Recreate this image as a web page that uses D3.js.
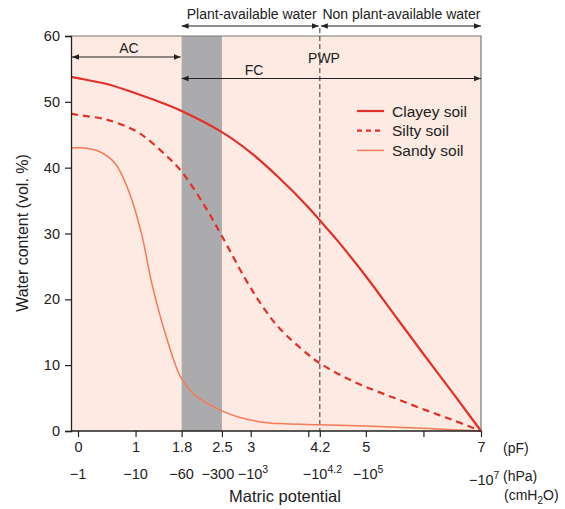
<!DOCTYPE html>
<html>
<head>
<meta charset="utf-8">
<script src="https://cdn.jsdelivr.net/npm/d3@7.9.0/dist/d3.min.js"></script>
<style>
  body { margin: 0; background: #fff; }
  svg text { font-family: "Liberation Sans", Arial, sans-serif; fill: #222; }
</style>
</head>
<body>
<svg id="chart" width="565" height="509"></svg>
<script>
// pF values and water content (vol. %)
const clayPF    = [-0.12, 0, 0.5, 1, 1.5, 1.8, 2.5, 3, 3.5, 4, 4.2, 4.5, 5, 5.5, 6, 6.5, 7];
const clayWater = [53.8, 53.6, 52.7, 51.3, 49.7, 48.6, 45.4, 42.3, 38.4, 34, 32, 29, 23.5, 17.6, 11.7, 5.9, 0];

const siltPF    = [-0.12, 0, 0.5, 1, 1.2, 1.5, 1.8, 2.2, 2.5, 2.9, 3.2, 3.5, 4, 4.2, 4.6, 5, 5.5, 6, 6.5, 7];
const siltWater = [48.2, 48, 47.3, 45.6, 44.4, 42.1, 39.4, 34.2, 29.6, 23.2, 19, 15.6, 11.6, 10.3, 8.3, 6.7, 5, 3.3, 1.7, 0];

const sandPF    = [-0.12, 0.1, 0.36, 0.64, 0.87, 1.1, 1.28, 1.51, 1.8, 2.08, 2.49, 2.8, 3.24, 3.6, 4.2, 5, 6, 7];
const sandWater = [43, 43, 42.5, 40.7, 36.7, 30.1, 22.5, 15, 7.9, 5.1, 3.1, 2.1, 1.3, 1.1, 0.95, 0.75, 0.4, 0];

const pfTicks = [0, 1, 1.8, 2.5, 3, 4, 4.2, 5, 6, 7];
const pfLabels = ["0", "1", "1.8", "2.5", "3", "", "4.2", "5", "", "7"];
// hPa labels under the pF ticks: [base, superscript, anchor, offset from tick]
const hpaLabels = [
  ["−1", "", "middle", 0], ["−10", "", "middle", 0], ["−60", "", "middle", 0],
  ["−300", "", "middle", -4], ["−10", "3", "start", -13], null,
  ["−10", "4.2", "start", -17], ["−10", "5", "start", -13], null, ["−10", "7", "start", -12]
];
const yTicks = [0, 10, 20, 30, 40, 50, 60];

const availStart = 1.8, availEnd = 2.5, pwp = 4.2;

const series = [
  { name: "Clayey soil", pf: clayPF, w: clayWater, color: "#e2302a", width: 2.2, dash: null },
  { name: "Silty soil",  pf: siltPF, w: siltWater, color: "#e2302a", width: 2.2, dash: "7,5" },
  { name: "Sandy soil",  pf: sandPF, w: sandWater, color: "#f57a58", width: 1.5, dash: null }
];

const svg = d3.select("#chart");
const pLeft = 71, pRight = 481, pTop = 36, pBottom = 431;

const x = d3.scaleLinear().domain([0, 7]).range([78, 481]);
const y = d3.scaleLinear().domain([0, 60]).range([pBottom, pTop]);

// arrow marker
const defs = svg.append("defs");
defs.append("marker").attr("id", "arr")
  .attr("viewBox", "0 0 10 10").attr("refX", 10).attr("refY", 5)
  .attr("markerWidth", 7).attr("markerHeight", 7).attr("orient", "auto-start-reverse")
  .attr("markerUnits", "userSpaceOnUse")
  .append("path").attr("d", "M0,1 L10,5 L0,9 Z").attr("fill", "#222");

// background
svg.append("rect").attr("x", pLeft).attr("y", pTop)
  .attr("width", pRight - pLeft).attr("height", pBottom - pTop).attr("fill", "#fdeae2");

svg.append("rect").attr("x", x(availStart)).attr("y", pTop)
  .attr("width", x(availEnd) - x(availStart)).attr("height", pBottom - pTop)
  .attr("fill", "#ababad");

// frame top/right
svg.append("path").attr("d", `M${pLeft},${pTop}H${pRight}V${pBottom}`)
  .attr("fill", "none").attr("stroke", "#777").attr("stroke-width", 1.2);

// PWP dashed line
svg.append("line").attr("x1", x(pwp)).attr("x2", x(pwp)).attr("y1", 28).attr("y2", pBottom)
  .attr("stroke", "#555").attr("stroke-width", 1.2).attr("stroke-dasharray", "5,3");

// curves
const line = d3.line().curve(d3.curveCatmullRom.alpha(0.5)).x(d => x(d[0])).y(d => y(d[1]));
series.forEach(s => {
  svg.append("path")
    .datum(s.pf.map((p, i) => [p, s.w[i]]))
    .attr("d", line)
    .attr("fill", "none")
    .attr("stroke", s.color)
    .attr("stroke-width", s.width)
    .attr("stroke-dasharray", s.dash);
});

// y axis
const yAxis = svg.append("g").attr("transform", `translate(${pLeft},0)`)
  .call(d3.axisLeft(y).tickValues(yTicks).tickSize(6).tickPadding(5));
yAxis.select(".domain").attr("stroke", "#222").attr("stroke-width", 1.3);
yAxis.selectAll(".tick line").attr("stroke", "#222").attr("stroke-width", 1.2);
yAxis.selectAll("text").style("font-size", "14.5px").attr("fill", "#222");

// x axis
const xAxis = svg.append("g").attr("transform", `translate(0,${pBottom})`)
  .call(d3.axisBottom(x).tickValues(pfTicks).tickSize(6).tickFormat((d, i) => pfLabels[i]).tickPadding(5));
xAxis.select(".domain").remove();
svg.append("line").attr("x1", pLeft).attr("x2", pRight).attr("y1", pBottom).attr("y2", pBottom)
  .attr("stroke", "#222").attr("stroke-width", 1.3);
xAxis.selectAll(".tick line").attr("stroke", "#222").attr("stroke-width", 1.2);
xAxis.selectAll("text").style("font-size", "14.5px").attr("fill", "#222");

svg.append("text").attr("x", 503).attr("y", 453).style("font-size", "14px").text("(pF)");

// hPa row
hpaLabels.forEach((lab, i) => {
  if (!lab) return;
  const p = pfTicks[i];
  const yy = p === 7 ? 485 : 479;
  const t = svg.append("text").attr("x", x(p) + lab[3]).attr("y", yy)
    .attr("text-anchor", lab[2]).style("font-size", "14.5px");
  t.append("tspan").text(lab[0]);
  if (lab[1]) t.append("tspan").attr("dy", -6).style("font-size", "10.5px").text(lab[1]);
});
svg.append("text").attr("x", 503).attr("y", 481).style("font-size", "14px").text("(hPa)");
const cm = svg.append("text").attr("x", 504).attr("y", 500).style("font-size", "14px");
cm.append("tspan").text("(cmH");
cm.append("tspan").attr("dy", 4).style("font-size", "10px").text("2");
cm.append("tspan").attr("dy", -4).text("O)");

svg.append("text").attr("x", 285).attr("y", 502).attr("text-anchor", "middle")
  .style("font-size", "16.5px").text("Matric potential");

svg.append("text").attr("transform", "translate(28,233) rotate(-90)")
  .attr("text-anchor", "middle").style("font-size", "16px").text("Water content (vol. %)");

// annotations with arrows
function arrow(x1, x2, yy) {
  svg.append("line").attr("x1", x1).attr("x2", x2).attr("y1", yy).attr("y2", yy)
    .attr("stroke", "#222").attr("stroke-width", 1.1)
    .attr("marker-start", "url(#arr)").attr("marker-end", "url(#arr)");
}
arrow(x(availStart), x(pwp) - 1, 26);
arrow(x(pwp) + 1, x(7), 26);
arrow(pLeft + 1, x(availStart) - 1, 57);
arrow(x(availStart), x(7), 78.5);

svg.append("text").attr("x", (x(availStart) + x(pwp)) / 2 + 1).attr("y", 19).attr("text-anchor", "middle")
  .style("font-size", "14px").text("Plant-available water");
svg.append("text").attr("x", (x(pwp) + x(7)) / 2 + 1).attr("y", 19).attr("text-anchor", "middle")
  .style("font-size", "14px").text("Non plant-available water");
svg.append("text").attr("x", 129).attr("y", 53).attr("text-anchor", "middle")
  .style("font-size", "14px").text("AC");
svg.append("text").attr("x", 254).attr("y", 75).attr("text-anchor", "middle")
  .style("font-size", "14px").text("FC");
svg.append("text").attr("x", 324).attr("y", 63).attr("text-anchor", "middle")
  .style("font-size", "14px").text("PWP");

// legend
const lg = svg.append("g").attr("transform", "translate(357,111)");
series.forEach((s, i) => {
  const g = lg.append("g").attr("transform", `translate(0,${i * 19.7})`);
  g.append("line").attr("x1", 0).attr("x2", 27).attr("y1", 0).attr("y2", 0)
    .attr("stroke", s.color).attr("stroke-width", s.width)
    .attr("stroke-dasharray", s.dash ? "5,4" : null);
  g.append("text").attr("x", 35).attr("y", 5.5).style("font-size", "15.5px").text(s.name);
});
</script>
</body>
</html>
